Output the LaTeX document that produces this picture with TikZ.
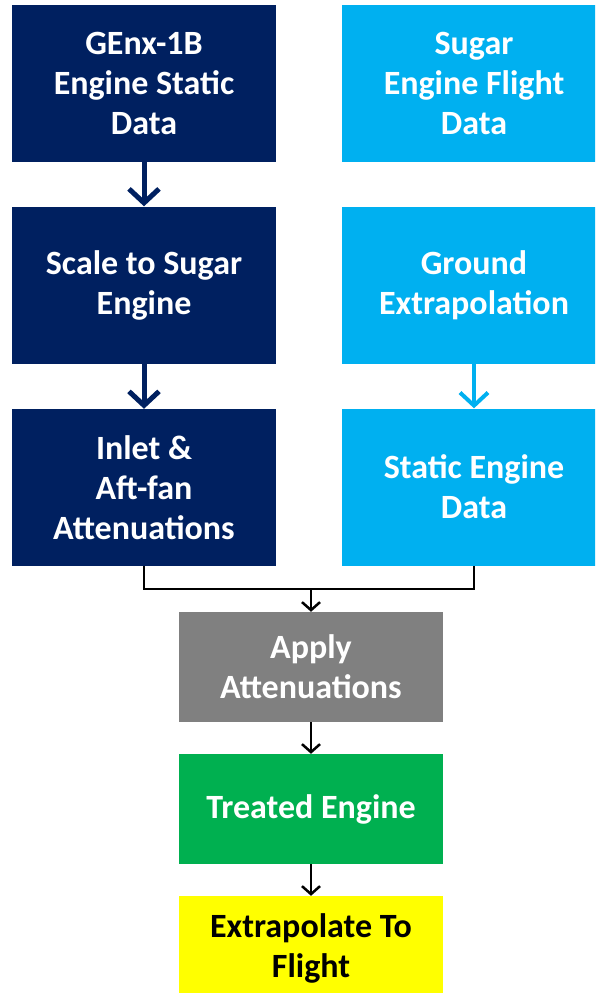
\documentclass[tikz,border=0pt]{standalone}
\usepackage{fontspec}
\setmainfont{Carlito}
\usetikzlibrary{arrows.meta}
\definecolor{navyc}{HTML}{002060}
\definecolor{skyc}{HTML}{00B0F0}
\definecolor{grayc}{HTML}{808080}
\definecolor{greenc}{HTML}{00B050}
\definecolor{yellowc}{HTML}{FFFF00}
\tikzset{
  box/.style={rectangle, draw=none, inner sep=0pt, minimum width=264pt, align=center,
    font=\fontsize{34}{40}\selectfont\bfseries, text=white},
  tallbox/.style={box, minimum height=157pt},
  shortbox/.style={box, minimum height=110pt},
  navyarrow/.style={draw=navyc, line width=5pt, -{Straight Barb[length=14pt,width=30pt]}},
  skyarrow/.style={draw=skyc, line width=4pt, -{Straight Barb[length=13pt,width=28pt]}},
  blkline/.style={draw=black, line width=2.5pt},
  blkarrow/.style={draw=black, line width=2.5pt, -{Straight Barb[length=8pt,width=18pt]}}
}
\begin{document}
\begin{tikzpicture}[x=1pt,y=-1pt]
\useasboundingbox (0,0) rectangle (595,993);
\clip (0,0) rectangle (595,993);
\node[tallbox, fill=navyc] (g1) at (144,83.5) {GEnx-1B\\Engine Static\\Data};
\node[tallbox, fill=navyc] (g2) at (144,285) {Scale to Sugar\\Engine};
\node[tallbox, fill=navyc] (g3) at (144,487.5) {Inlet \&\\Aft-fan\\Attenuations};
\node[tallbox, fill=skyc] (s1) at (474,83.5) {Sugar\\Engine Flight\\Data};
\node[tallbox, fill=skyc] (s2) at (474,285.5) {Ground\\Extrapolation};
\node[tallbox, fill=skyc] (s3) at (474,487) {Static Engine\\Data};
\node[shortbox, fill=grayc] (apply) at (311,667) {Apply\\Attenuations};
\node[shortbox, fill=greenc] (treated) at (311,809) {Treated Engine};
\node[box, minimum height=104pt, fill=yellowc, text=black] (extrap) at (311,948) {Extrapolate To\\Flight};
\draw[navyarrow] (g1.south) -- (g2.north);
\draw[navyarrow] (g2.south) -- (g3.north);
\draw[skyarrow] (s2.south) -- (s3.north);
\coordinate (j) at (311,589);
\draw[blkline] (g3.south) |- (j) -| (s3.south);
\draw[blkarrow] (j) -- (apply.north);
\draw[blkarrow] (apply.south) -- (treated.north);
\draw[blkarrow] (treated.south) -- (extrap.north);
\end{tikzpicture}
\end{document}
